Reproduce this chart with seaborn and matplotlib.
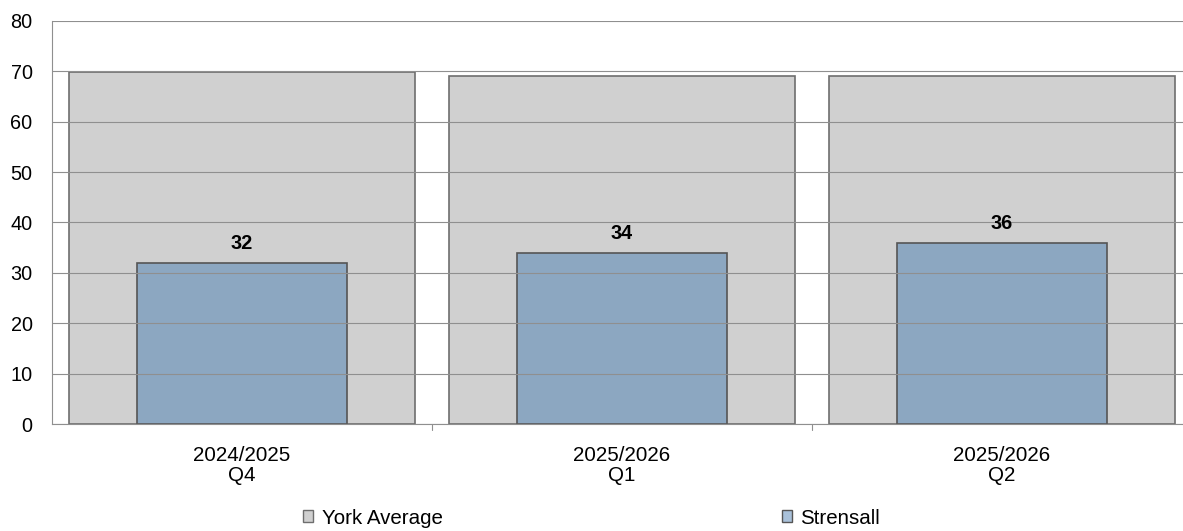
import numpy as np
import pandas as pd
import matplotlib.pyplot as plt
import seaborn as sns
from matplotlib.patches import Patch

categories = ["2024/2025\nQ4", "2025/2026\nQ1", "2025/2026\nQ2"]
york_avg = [69.8, 69, 69]
strensall = [32, 34, 36]

sns.set_style("white")
plt.rcParams['font.family'] = ['Liberation Sans', 'DejaVu Sans']
plt.rcParams['text.color'] = 'black'
plt.rcParams['xtick.color'] = 'black'
plt.rcParams['ytick.color'] = 'black'

fig = plt.figure(figsize=(11.83, 5.31), dpi=100)
ax = fig.add_axes([52 / 1183, 1 - 424 / 531, 1140 / 1183, 403 / 531])

york_col = "#d0d0d0"
str_col = "#8ca7c1"

df = pd.DataFrame({"period": categories, "york": york_avg, "strensall": strensall})
sns.barplot(data=df, x="period", y="york", color=york_col, width=0.91,
            edgecolor="#6e6e6e", linewidth=1.2, saturation=1, ax=ax)
sns.barplot(data=df, x="period", y="strensall", color=str_col, width=0.555,
            edgecolor="#555555", linewidth=1.2, saturation=1, ax=ax)

ax.bar_label(ax.containers[1], labels=[str(v) for v in strensall], padding=7,
             fontsize=14.3, fontweight="bold", color="black")

ax.set_ylim(0, 80)
ax.set_xlim(-0.5, 2.5)
ax.set_yticks(range(0, 81, 10))
ax.yaxis.grid(True, color="#8f8f8f", linewidth=0.8)
ax.set_axisbelow(False)
ax.set_xlabel("")
ax.set_ylabel("")

ax.set_xticks([0, 1, 2])
ax.set_xticklabels(categories, fontsize=14.8, linespacing=1.05)
ax.tick_params(axis="x", length=0, pad=16)
ax.tick_params(axis="y", labelsize=14.3, length=6, color="#8f8f8f", direction="out", pad=8)
for b in [0.5, 1.5]:
    ax.plot([b, b], [0, -1.2], color="#8f8f8f", linewidth=0.8, clip_on=False)

for s in ["top", "right"]:
    ax.spines[s].set_visible(False)
ax.spines["left"].set_color("#8f8f8f")
ax.spines["bottom"].set_color("#8f8f8f")

leg_items = [(Patch(facecolor=york_col, edgecolor="#6e6e6e", label="York Average"), 303),
             (Patch(facecolor="#a9c1da", edgecolor="#555555", label="Strensall"), 782)]
for h, xpix in leg_items:
    fig.legend(handles=[h], loc="center left", bbox_to_anchor=(xpix / 1183, 1 - 518 / 531),
               frameon=False, fontsize=14.8, handlelength=0.5, handleheight=0.5,
               handletextpad=0.4, borderpad=0, borderaxespad=0)

fig.savefig("out.png", dpi=100)
